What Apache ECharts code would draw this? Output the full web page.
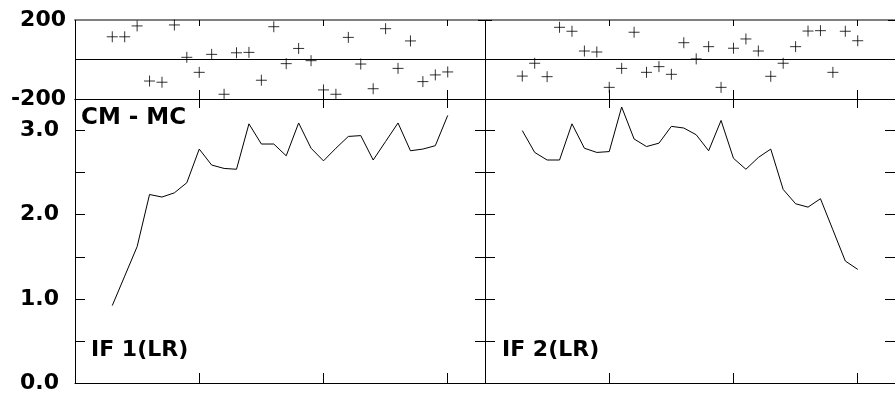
<!DOCTYPE html>
<html>
<head>
<meta charset="utf-8">
<script src="https://cdn.jsdelivr.net/npm/echarts@6/dist/echarts.min.js"></script>
<style>html,body{margin:0;padding:0;background:#fff;}#c{width:895px;height:395px;}</style>
</head>
<body>
<div id="c"></div>
<script>
// Run index (x positions), shared by both panels
var runIndex = [3,4,5,6,7,8,9,10,11,12,13,14,15,16,17,18,19,20,21,22,23,24,25,26,27,28,29,30];

// Top strip: residuals (CM - MC)
var resid1 = [115,115,170,-109,-115,175,11,-65,26,-176,34,36,-105,166,-21,56,-6,-154,-176,112,-23,-148,156,-45,94,-112,-78,-63];
var resid2 = [-84,-19,-87,163,143,43,38,-141,-45,138,-65,-36,-75,85,3,65,-141,57,104,43,-85,-19,65,144,146,-65,143,95];

// Bottom panels: IF 1(LR) and IF 2(LR)
var if1 = [0.92,1.27,1.62,2.24,2.21,2.26,2.38,2.78,2.59,2.55,2.54,3.08,2.84,2.84,2.70,3.09,2.79,2.64,2.79,2.93,2.94,2.65,2.87,3.09,2.76,2.78,2.82,3.18];
var if2 = [3.00,2.74,2.65,2.65,3.08,2.79,2.74,2.75,3.28,2.90,2.81,2.85,3.05,3.03,2.95,2.76,3.12,2.67,2.54,2.68,2.78,2.30,2.13,2.09,2.19,1.82,1.45,1.35];

// Axis tick labels
var residTickLabels = [200, -200];
var ifTickLabels = [0, 1, 2, 3];

function pairs(xs, ys){ return xs.map(function(x,i){ return [x, ys[i]]; }); }

var FONT = '"DejaVu Sans", sans-serif';
var LINE = '#000';

function xAx(grid, pos, len, lineColor, lineWidth){
  return {
    type:'value', gridIndex:grid, position:pos, min:0, max:33, interval:10,
    axisLine:{show:true, onZero:false, lineStyle:{color:lineColor||LINE, width:lineWidth||1}},
    axisTick:{show:true, inside:true, length:len, lineStyle:{color:LINE}},
    axisLabel:{show:false}, splitLine:{show:false}
  };
}
function yResid(grid, pos, labels, tickLen, split){
  return {
    type:'value', gridIndex:grid, position:pos, min:-200, max:200, interval:200,
    axisLine:{show:true, onZero:false, lineStyle:{color:LINE}},
    axisTick:{show:tickLen>0, inside:true, length:tickLen, lineStyle:{color:LINE}},
    axisLabel:{show:labels, margin:9, color:'#000', fontFamily:FONT, fontWeight:'bold', fontSize:22,
      formatter:function(v){ return residTickLabels.indexOf(v) >= 0 ? String(v) : ''; }},
    splitLine:{show:split, lineStyle:{color:LINE, width:1}}
  };
}
function yIF(grid, pos, labels){
  return {
    type:'value', gridIndex:grid, position:pos, min:0, max:3.375, interval:0.5,
    axisLine:{show:true, onZero:false, lineStyle:{color:LINE}},
    axisTick:{show:true, inside:true, length:10, lineStyle:{color:LINE}},
    axisLabel:{show:labels, margin:16, color:'#000', fontFamily:FONT, fontWeight:'bold', fontSize:22,
      showMaxLabel:false,
      formatter:function(v){ return ifTickLabels.indexOf(v) >= 0 ? v.toFixed(1) : ''; }},
    splitLine:{show:false}
  };
}

var plus = 'path://M0,5.5L11,5.5M5.5,0L5.5,11';

var option = {
  animation:false,
  backgroundColor:'#fff',
  grid:[
    {left:75, top:20, width:410, height:79, outerBoundsMode:'none'},
    {left:485, top:20, width:410, height:79, outerBoundsMode:'none'},
    {left:75, top:99, width:410, height:284, outerBoundsMode:'none'},
    {left:485, top:99, width:410, height:284, outerBoundsMode:'none'}
  ],
  xAxis:[
    xAx(0,'bottom',9), xAx(0,'top',6,'#808080',2),
    xAx(1,'bottom',9), xAx(1,'top',6,'#808080',2),
    xAx(2,'bottom',10), xAx(2,'top',9),
    xAx(3,'bottom',10), xAx(3,'top',9)
  ],
  yAxis:[
    yResid(0,'left',true,0,true), yResid(0,'right',false,7,false),
    yResid(1,'left',false,7,true), yResid(1,'right',false,7,false),
    yIF(2,'left',true), yIF(2,'right',false),
    yIF(3,'left',false), yIF(3,'right',false)
  ],
  series:[
    {type:'scatter', xAxisIndex:0, yAxisIndex:0, data:pairs(runIndex, resid1), symbol:plus, symbolSize:11,
      itemStyle:{color:'none', borderColor:'#000', borderWidth:1}, silent:true},
    {type:'scatter', xAxisIndex:2, yAxisIndex:2, data:pairs(runIndex, resid2), symbol:plus, symbolSize:11,
      itemStyle:{color:'none', borderColor:'#000', borderWidth:1}, silent:true},
    {type:'line', xAxisIndex:4, yAxisIndex:4, data:pairs(runIndex, if1), showSymbol:false, symbol:'none',
      lineStyle:{color:'#000', width:1}, silent:true},
    {type:'line', xAxisIndex:6, yAxisIndex:6, data:pairs(runIndex, if2), showSymbol:false, symbol:'none',
      lineStyle:{color:'#000', width:1}, silent:true}
  ],
  graphic:[
    {type:'text', left:81, top:107, style:{text:'CM - MC', font:'bold 23px ' + FONT, fill:'#000'}},
    {type:'text', left:91, top:339, style:{text:'IF 1(LR)', font:'bold 22px ' + FONT, fill:'#000'}},
    {type:'text', left:502, top:339, style:{text:'IF 2(LR)', font:'bold 22px ' + FONT, fill:'#000'}}
  ]
};

var chart = echarts.init(document.getElementById('c'), null, {renderer:'canvas'});
chart.setOption(option);
</script>
</body>
</html>
